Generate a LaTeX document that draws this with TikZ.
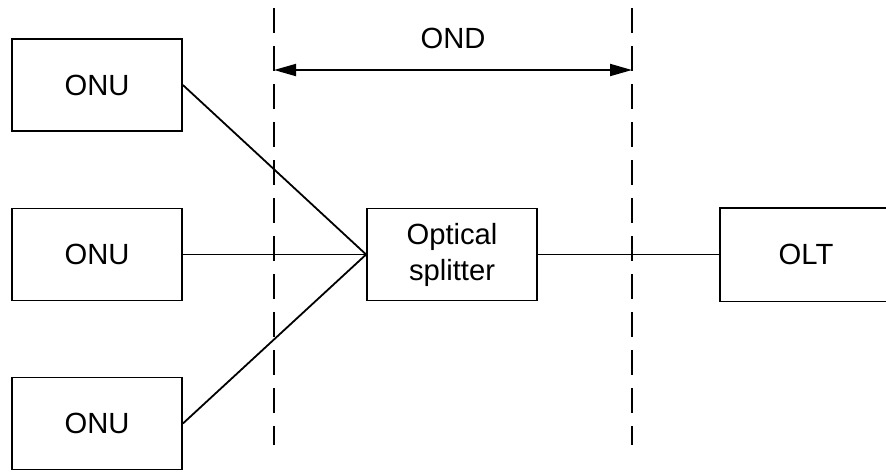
\documentclass[tikz,border=0pt]{standalone}
\usepackage{fontspec}
\setmainfont{Liberation Sans}
\usetikzlibrary{arrows.meta}

\begin{document}
\begin{tikzpicture}[
      x=0.5pt, y=-0.5pt,
      line width=0.9pt,
      font=\fontsize{14.6}{18}\selectfont,
      unit/.style={draw, minimum width=85pt, minimum height=46pt, inner sep=0pt, align=center},
      boundary/.style={dash pattern=on 12.5pt off 6.5pt},
      span/.style={{Triangle[length=11pt,width=6pt]}-{Triangle[length=11pt,width=6pt]}}
    ]
    \useasboundingbox (0,0) rectangle (886,472);
    \clip (0,0) rectangle (886,472);
    \node (onu1) [unit] at (97,85) {ONU};
    \node (onu2) [unit] at (97,254.5) {ONU};
    \node (onu3) [unit] at (97,423.5) {ONU};
    \node (split) [unit] at (452,254.5) {Optical\\splitter};
    % OLT box runs off the right edge
    \node (olt) [unit, draw=none] at (806,254.5) {OLT};
    \draw ([xshift=30pt]olt.north east) -- (olt.north west) -- (olt.south west) -- ([xshift=30pt]olt.south east);
    \coordinate (b1top) at (274,8);
    \coordinate (b1bot) at (274,445);
    \coordinate (b2top) at (632,8);
    \coordinate (b2bot) at (632,445);
    \coordinate (ondl) at (274,70);
    \coordinate (ondr) at (632,70);
    \node (ond) at (453,38) {OND};
    \draw [boundary] (b1top) -- (b1bot);
    \draw [boundary] (b2top) -- (b2bot);
    \draw [span] (ondl) -- (ondr);
    \draw (onu1.east) -- (split.west);
    \draw (onu2.east) -- (split.west);
    \draw (onu3.east) -- (split.west);
    \draw (split.east) -- (olt.west);
  \end{tikzpicture}
\end{document}
